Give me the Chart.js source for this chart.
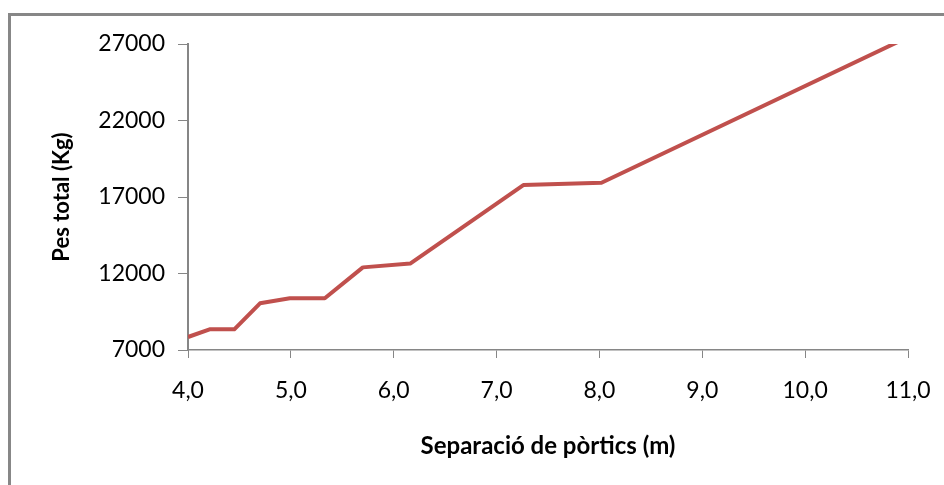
<!DOCTYPE html>
<html>
<head>
<meta charset="utf-8">
<title>Pes total segons separació de pòrtics</title>
<script src="https://cdn.jsdelivr.net/npm/chart.js@4/dist/chart.umd.min.js"></script>
<style>
  html, body { margin: 0; padding: 0; background: #ffffff; }
  #wrap { position: relative; width: 944px; height: 485px; }
</style>
</head>
<body>
<div id="wrap"><canvas id="chart" width="944" height="485"></canvas></div>
<script>
// Separació entre pòrtics (m)
const separacio = [4.0, 4.21, 4.45, 4.70, 4.99, 5.33, 5.70, 6.16, 7.26, 8.02, 11.0];
// Pes total de l'estructura (Kg)
const pesTotal = [7850, 8350, 8350, 10050, 10380, 10380, 12400, 12650, 17780, 17930, 27450];
// Eixos
const xTicks = [4, 5, 6, 7, 8, 9, 10, 11];
const yTicks = [7000, 12000, 17000, 22000, 27000];
const xTitle = 'Separació de pòrtics (m)';
const yTitle = 'Pes total (Kg)';

const axisGrey = '#868686';
const fontFamily = 'Lato, "Open Sans", sans-serif';

// Marc exterior del gràfic (només costats superior i esquerre visibles)
const framePlugin = {
  id: 'frame',
  beforeDraw(chart) {
    const ctx = chart.ctx;
    ctx.save();
    ctx.strokeStyle = '#878787';
    ctx.lineWidth = 3;
    ctx.beginPath();
    ctx.moveTo(8, 14.5);
    ctx.lineTo(chart.width, 14.5);
    ctx.moveTo(9.5, 13);
    ctx.lineTo(9.5, chart.height);
    ctx.stroke();
    ctx.restore();
  }
};

const points = separacio.map((x, i) => ({ x: x, y: pesTotal[i] }));

new Chart(document.getElementById('chart'), {
  type: 'line',
  data: {
    datasets: [{
      data: points,
      borderColor: '#C0504D',
      borderWidth: 4,
      borderJoinStyle: 'round',
      borderCapStyle: 'butt',
      pointRadius: 0,
      pointHoverRadius: 0,
      tension: 0,
      fill: false,
      clip: 0
    }]
  },
  options: {
    responsive: false,
    animation: false,
    events: [],
    layout: { padding: { top: 44, right: 36, bottom: 0, left: 0 } },
    plugins: {
      legend: { display: false },
      tooltip: { enabled: false }
    },
    scales: {
      x: {
        type: 'linear',
        position: 'bottom',
        min: xTicks[0],
        max: xTicks[xTicks.length - 1],
        afterBuildTicks(scale) { scale.ticks = xTicks.map(v => ({ value: v })); },
        afterFit(scale) {
          scale.height = 135;
          scale.paddingLeft = 0;
          scale.paddingRight = 0;
        },
        ticks: {
          color: '#000000',
          font: { family: fontFamily, size: 23 },
          padding: 19,
          maxRotation: 0,
          callback: v => v.toFixed(1).replace('.', ',')
        },
        grid: {
          display: true,
          drawOnChartArea: false,
          drawTicks: true,
          tickLength: 8,
          color: axisGrey,
          lineWidth: 1
        },
        border: { display: true, color: axisGrey, width: 1.5 },
        title: {
          display: true,
          text: xTitle,
          color: '#000000',
          font: { family: fontFamily, size: 24, weight: 'bold' },
          padding: { top: 0, bottom: 24 }
        }
      },
      y: {
        type: 'linear',
        position: 'left',
        min: yTicks[0],
        max: yTicks[yTicks.length - 1],
        afterBuildTicks(scale) { scale.ticks = yTicks.map(v => ({ value: v })); },
        afterFit(scale) {
          scale.width = 188;
          scale.paddingTop = 0;
          scale.paddingBottom = 0;
        },
        ticks: {
          color: '#000000',
          font: { family: fontFamily, size: 23 },
          padding: 13,
          callback: v => String(v)
        },
        grid: {
          display: true,
          drawOnChartArea: false,
          drawTicks: true,
          tickLength: 10,
          color: axisGrey,
          lineWidth: 1
        },
        border: { display: true, color: axisGrey, width: 2 },
        title: {
          display: true,
          text: yTitle,
          color: '#000000',
          font: { family: fontFamily, size: 22, weight: 'bold' },
          padding: { top: 49, bottom: 0 }
        }
      }
    }
  },
  plugins: [framePlugin]
});
</script>
</body>
</html>
